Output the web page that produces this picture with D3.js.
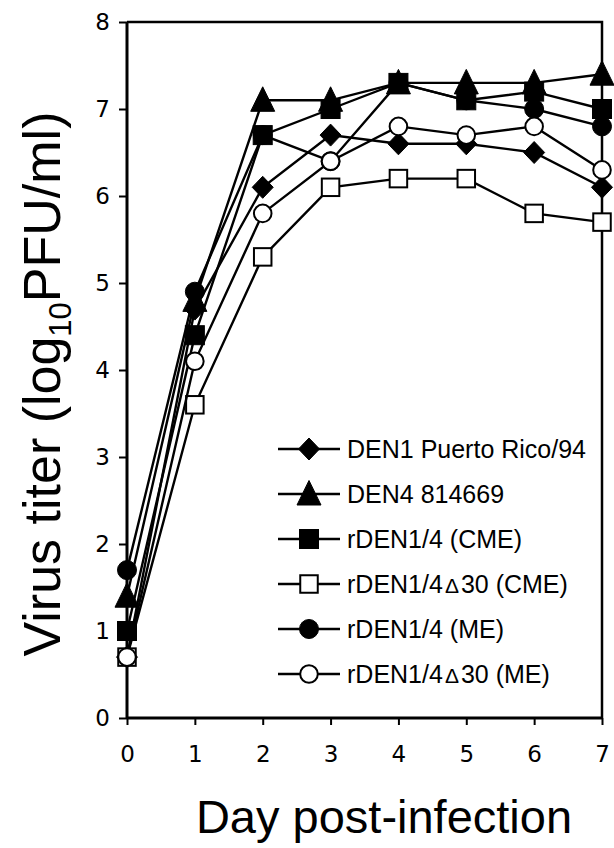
<!DOCTYPE html>
<html>
<head>
<meta charset="utf-8">
<script src="https://cdn.jsdelivr.net/npm/d3@7"></script>
<style>
  html, body { margin: 0; padding: 0; background: #fff; }
  svg { display: block; }
</style>
</head>
<body>
<svg id="chart" width="614" height="848"></svg>
<script>
// ---- data ----
const days = [0, 1, 2, 3, 4, 5, 6, 7];
const xTicks = [0, 1, 2, 3, 4, 5, 6, 7];
const yTicks = [0, 1, 2, 3, 4, 5, 6, 7, 8];
const seriesNames = [
  "DEN1 Puerto Rico/94",
  "DEN4 814669",
  "rDEN1/4 (CME)",
  "rDEN1/4\u039430 (CME)",
  "rDEN1/4 (ME)",
  "rDEN1/4\u039430 (ME)"
];
const den1PR94   = [0.7, 4.7, 6.1, 6.7, 6.6, 6.6, 6.5, 6.1];
const den4       = [1.4, 4.8, 7.1, 7.1, 7.3, 7.3, 7.3, 7.4];
const rDen14CME  = [1.0, 4.4, 6.7, 7.0, 7.3, 7.1, 7.2, 7.0];
const rDen14d30CME = [0.7, 3.6, 5.3, 6.1, 6.2, 6.2, 5.8, 5.7];
const rDen14ME   = [1.7, 4.9, 6.7, 6.4, 7.3, 7.1, 7.0, 6.8];
const rDen14d30ME  = [0.7, 4.1, 5.8, 6.4, 6.8, 6.7, 6.8, 6.3];
const seriesValues = [den1PR94, den4, rDen14CME, rDen14d30CME, rDen14ME, rDen14d30ME];
const markerKinds = ["diamond", "triangle", "square", "squareOpen", "circle", "circleOpen"];

(function () {
// ---- layout ----
const svg = d3.select("#chart");
const pL = 127, pR = 602, pT = 22, pB = 718;
const x = d3.scaleLinear().domain([0, 7]).range([pL, pR]);
const y = d3.scaleLinear().domain([0, 8]).range([pB, pT]);

// frame (top & right)
svg.append("path")
  .attr("d", `M${pL},${pT}H${pR}V${pB}`)
  .attr("fill", "none").attr("stroke", "#000").attr("stroke-width", 2.5);

// axes
const yAxis = d3.axisLeft(y).tickValues(yTicks).tickSize(8).tickPadding(9).tickFormat(d3.format("d"));
const xAxis = d3.axisBottom(x).tickValues(xTicks).tickSize(7).tickPadding(21).tickFormat(d3.format("d"));

const gy = svg.append("g").attr("transform", `translate(${pL},0)`).call(yAxis);
const gx = svg.append("g").attr("transform", `translate(0,${pB})`).call(xAxis);
[gx, gy].forEach(g => {
  g.select(".domain").attr("stroke", "#000").attr("stroke-width", 3);
  g.selectAll(".tick line").attr("stroke", "#000").attr("stroke-width", 2);
  g.selectAll(".tick text").attr("fill", "#000")
    .style("font-family", "'DejaVu Sans', Verdana, sans-serif").style("font-size", "23px");
});
gy.select(".domain").attr("d", `M0,${pB}V${pT}`);
gx.select(".domain").attr("d", `M${pL},0H${pR}`);

// marker drawing
function drawMarker(g, kind, cx, cy) {
  const filled = !(kind === "squareOpen" || kind === "circleOpen");
  const fill = filled ? "#000" : "#fff";
  if (kind === "diamond") {
    g.append("path").attr("d", `M${cx},${cy - 11}L${cx + 10.5},${cy}L${cx},${cy + 11}L${cx - 10.5},${cy}Z`)
      .attr("fill", fill).attr("stroke", "#000").attr("stroke-width", 1);
  } else if (kind === "triangle") {
    g.append("path").attr("d", `M${cx},${cy - 13.5}L${cx + 12},${cy + 11}L${cx - 12},${cy + 11}Z`)
      .attr("fill", fill).attr("stroke", "#000").attr("stroke-width", 1);
  } else if (kind === "square" || kind === "squareOpen") {
    const s = filled ? 19 : 17.5;
    g.append("rect").attr("x", cx - s / 2).attr("y", cy - s / 2).attr("width", s).attr("height", s)
      .attr("fill", fill).attr("stroke", "#000").attr("stroke-width", filled ? 1 : 2);
  } else {
    g.append("circle").attr("cx", cx).attr("cy", cy).attr("r", filled ? 9.5 : 8.8)
      .attr("fill", fill).attr("stroke", "#000").attr("stroke-width", filled ? 1 : 2);
  }
}

const line = d3.line().x((d, i) => x(days[i])).y(d => y(d));
const plot = svg.append("g");
seriesValues.forEach((vals, si) => {
  const g = plot.append("g");
  g.append("path").datum(vals).attr("d", line)
    .attr("fill", "none").attr("stroke", "#000").attr("stroke-width", 2.4);
  vals.forEach((v, i) => drawMarker(g, markerKinds[si], x(days[i]), y(v)));
});

// legend
const legend = svg.append("g");
const legX0 = 278, legX1 = 340, legMx = 309, legTx = 347, legY0 = 449, legDy = 45;
seriesNames.forEach((name, i) => {
  const ly = legY0 + i * legDy;
  const g = legend.append("g");
  g.append("line").attr("x1", legX0).attr("x2", legX1).attr("y1", ly).attr("y2", ly)
    .attr("stroke", "#000").attr("stroke-width", 2.4);
  drawMarker(g, markerKinds[i], legMx, ly);
  const t = g.append("text").attr("x", legTx).attr("y", ly).attr("dy", "0.36em")
    .style("font-family", "'Liberation Sans', Arial, sans-serif").style("font-size", "25px");
  const parts = name.split("\u0394");
  t.append("tspan").text(parts[0]);
  if (parts.length > 1) {
    t.append("tspan").attr("dx", 2).style("font-size", "21px").text("\u0394");
    t.append("tspan").attr("dx", 2).text(parts[1]);
  }
});

// axis titles
svg.append("text").attr("x", 384).attr("y", 833).attr("text-anchor", "middle")
  .style("font-family", "'Liberation Sans', Arial, sans-serif").style("font-size", "47px")
  .text("Day post-infection");

const yt = svg.append("text").attr("transform", "translate(60,384) rotate(-90)")
  .attr("text-anchor", "middle")
  .style("font-family", "'Liberation Sans', Arial, sans-serif").style("font-size", "52px");
yt.append("tspan").text("Virus titer (log");
yt.append("tspan").attr("dy", 11).style("font-size", "31px").text("10");
yt.append("tspan").attr("dy", -11).text("PFU/ml)");
})();
</script>
</body>
</html>
